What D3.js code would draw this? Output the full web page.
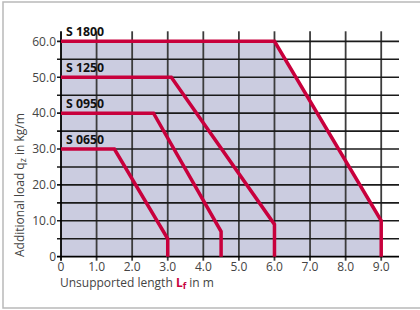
<!DOCTYPE html>
<html>
<head>
<meta charset="utf-8">
<script src="https://cdn.jsdelivr.net/npm/d3@7"></script>
<style>
  body { margin: 0; background: #fff; }
  svg { display: block; font-family: 'Open Sans', sans-serif; }
</style>
</head>
<body>
<svg class="chart"></svg>
<script>
// values
const seriesNames = ['S 1800', 'S 1250', 'S 0950', 'S 0650'];
const lengths1800 = [0, 6.0, 9.0, 9.0];
const loads1800 = [60, 60, 10, 0];
const lengths1250 = [0, 3.1, 6.0, 6.0];
const loads1250 = [50, 50, 9, 0];
const lengths0950 = [0, 2.6, 4.5, 4.5];
const loads0950 = [40, 40, 7, 0];
const lengths0650 = [0, 1.5, 3.0, 3.0];
const loads0650 = [30, 30, 5, 0];

const xTicks = [0, 1, 2, 3, 4, 5, 6, 7, 8, 9];
const xTickLabels = ['0', '1.0', '2.0', '3.0', '4.0', '5.0', '6.0', '7.0', '8.0', '9.0'];
const yTicks = [0, 10, 20, 30, 40, 50, 60];
const yTickLabels = ['0', '10.0', '20.0', '30.0', '40.0', '50.0', '60.0'];
const yGrid = d3.range(5, 61, 5);

const width = 420;
const height = 310;
const red = '#c8003c';

const svg = d3.select('.chart')
  .attr('width', width)
  .attr('height', height);

// outer frame
svg.append('rect')
  .attr('x', 3)
  .attr('y', 2)
  .attr('width', 430)
  .attr('height', 306)
  .attr('fill', 'none')
  .attr('stroke', '#b9b9b9')
  .attr('stroke-width', 1.5);

const x = d3.scaleLinear().domain([0, 9.5]).range([61, 399]);
const y = d3.scaleLinear().domain([0, 62.8]).range([256.7, 31.3]);

const curves = [
  { name: seriesNames[0], xs: lengths1800, ys: loads1800 },
  { name: seriesNames[1], xs: lengths1250, ys: loads1250 },
  { name: seriesNames[2], xs: lengths0950, ys: loads0950 },
  { name: seriesNames[3], xs: lengths0650, ys: loads0650 },
];
curves.forEach((c) => {
  c.points = c.xs.map((v, i) => [v, c.ys[i]]);
});

// shaded envelope (outer curve)
const area = d3.area()
  .x(d => x(d[0]))
  .y0(y(0))
  .y1(d => y(d[1]));
svg.append('path')
  .datum(curves[0].points)
  .attr('d', area)
  .attr('fill', '#cbcce0');

// vertical grid
svg.selectAll('line.vgrid')
  .data(xTicks.slice(1))
  .enter()
  .append('line')
  .attr('x1', d => x(d))
  .attr('x2', d => x(d))
  .attr('y1', y.range()[1])
  .attr('y2', y(0) + 4)
  .attr('stroke', '#3c3c3c')
  .attr('stroke-width', 1.8);

// horizontal grid
svg.selectAll('line.hgrid')
  .data(yGrid)
  .enter()
  .append('line')
  .attr('x1', x(0) - 4)
  .attr('x2', x(9.5))
  .attr('y1', d => y(d))
  .attr('y2', d => y(d))
  .attr('stroke', '#1a1a1a')
  .attr('stroke-width', 1.6);

// axes lines
svg.append('line')
  .attr('x1', x(0)).attr('x2', x(0))
  .attr('y1', y.range()[1]).attr('y2', y(0) + 4)
  .attr('stroke', '#000').attr('stroke-width', 1.8);
svg.append('line')
  .attr('x1', x(0) - 4).attr('x2', x(9.5))
  .attr('y1', y(0)).attr('y2', y(0))
  .attr('stroke', '#000').attr('stroke-width', 1.8);

// tick labels
svg.selectAll('text.ylab')
  .data(yTicks)
  .enter()
  .append('text')
  .attr('x', 56)
  .attr('y', d => y(d))
  .attr('dy', '0.36em')
  .attr('text-anchor', 'end')
  .attr('font-size', 12)
  .attr('fill', '#444')
  .text((d, i) => yTickLabels[i]);

svg.selectAll('text.xlab')
  .data(xTicks)
  .enter()
  .append('text')
  .attr('x', d => x(d))
  .attr('y', 271)
  .attr('text-anchor', 'middle')
  .attr('font-size', 12)
  .attr('fill', '#444')
  .text((d, i) => xTickLabels[i]);

// curves
const line = d3.line()
  .x(d => x(d[0]))
  .y(d => y(d[1]));
svg.selectAll('path.curve')
  .data(curves)
  .enter()
  .append('path')
  .attr('d', d => line(d.points))
  .attr('fill', 'none')
  .attr('stroke', red)
  .attr('stroke-width', 3.5)
  .attr('stroke-linejoin', 'miter');

svg.selectAll('text.series')
  .data(curves)
  .enter()
  .append('text')
  .attr('x', 66)
  .attr('y', d => y(d.ys[0]) - 5)
  .attr('font-size', 12.3)
  .attr('font-weight', 'bold')
  .attr('fill', '#111')
  .text(d => d.name);

// axis titles
const xTitle = svg.append('text')
  .attr('x', 60)
  .attr('y', 287)
  .attr('font-size', 12)
  .attr('fill', '#444');
xTitle.append('tspan').text('Unsupported length ');
xTitle.append('tspan').attr('font-weight', 'bold').attr('fill', red).text('L');
xTitle.append('tspan').attr('font-weight', 'bold').attr('fill', red)
  .attr('font-size', 9).attr('dy', 2).text('f');
xTitle.append('tspan').attr('dy', -2).text(' in m');

const yTitle = svg.append('text')
  .attr('transform', 'translate(24,257) rotate(-90)')
  .attr('font-size', 12)
  .attr('fill', '#444');
yTitle.append('tspan').text('Additional load q');
yTitle.append('tspan').attr('font-size', 9).attr('dy', 2).text('z');
yTitle.append('tspan').attr('dy', -2).text(' in kg/m');
</script>
</body>
</html>
